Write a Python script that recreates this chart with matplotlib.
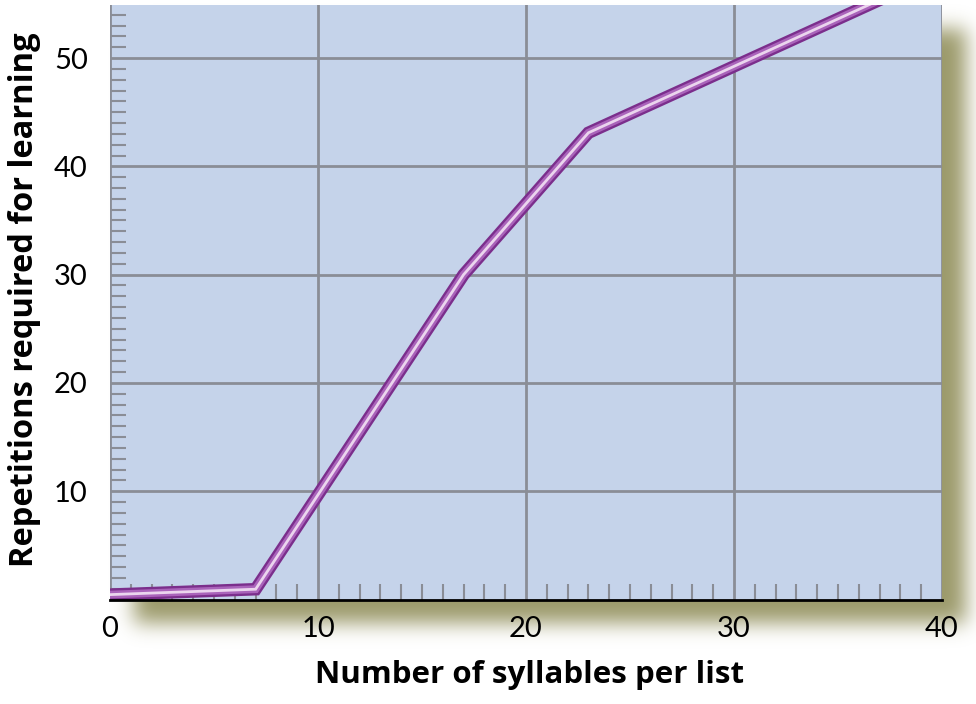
import numpy as np
import matplotlib
matplotlib.use("Agg")
import matplotlib.pyplot as plt
from matplotlib.ticker import MultipleLocator

# Data
syllables = [0, 7, 17, 23, 40]
repetitions = [0.45, 0.95, 30.0, 43.1, 58.0]
x_ticks = [0, 10, 20, 30, 40]
y_ticks = [10, 20, 30, 40, 50]
x_label = "Number of syllables per list"
y_label = "Repetitions required for learning"

plt.rcParams['font.family'] = ['Lato', 'DejaVu Sans']

W, H = 976, 704
fig = plt.figure(figsize=(W / 100, H / 100), dpi=100)
fig.patch.set_facecolor('white')

# axes placement (pixels)
L, R, T, B = 110, 942, 5, 599.5
ax_rect = [L / W, (H - B) / H, (R - L) / W, (B - T) / H]

# drop shadow
bg = fig.add_axes([0, 0, 1, 1], zorder=0)
bg.set_xlim(0, W); bg.set_ylim(H, 0); bg.axis('off')
mask = np.zeros((H, W))
off = 24
mask[int(T + off):int(B + off), int(L + off):int(R + off)] = 1.0
def blur1d(a, sigma, axis):
    r = int(3 * sigma)
    k = np.exp(-0.5 * (np.arange(-r, r + 1) / sigma) ** 2)
    k /= k.sum()
    return np.apply_along_axis(lambda v: np.convolve(v, k, mode='same'), axis, a)
mask = blur1d(blur1d(mask, 10, 0), 10, 1)
rgba = np.zeros((H, W, 4))
rgba[..., 0] = 150 / 255
rgba[..., 1] = 148 / 255
rgba[..., 2] = 98 / 255
rgba[..., 3] = np.clip(mask * 0.95, 0, 1)
bg.imshow(rgba, extent=(0, W, H, 0), interpolation='bilinear')

ax = fig.add_axes(ax_rect, zorder=1)
ax.set_facecolor('#C5D3EA')
ax.set_xlim(0, 40)
ax.set_ylim(0, 54.9)

ax.set_xticks(x_ticks)
ax.set_yticks(y_ticks)
ax.xaxis.set_minor_locator(MultipleLocator(1))
ax.yaxis.set_minor_locator(MultipleLocator(1))
ax.grid(True, which='major', color='#8A8D96', linewidth=2.0)
ax.set_axisbelow(True)

ax.tick_params(which='major', length=0, labelsize=21, colors='black')
ax.tick_params(axis='x', which='major', pad=12)
ax.tick_params(axis='y', which='major', pad=16)
ax.tick_params(which='minor', direction='in', length=11.5, width=1.5, color='#8A8D96')

for s in ['top', 'right', 'left']:
    ax.spines[s].set_visible(False)
ax.spines['bottom'].set_color('black')
ax.spines['bottom'].set_linewidth(2)
ax.spines['bottom'].set_zorder(5)

ax.plot(syllables, repetitions, color='#7B2E8C', linewidth=9, solid_joinstyle='miter', zorder=3)
ax.plot(syllables, repetitions, color='#A963BA', linewidth=5.6, solid_joinstyle='miter', zorder=4)
ax.plot(syllables, repetitions, color='#EBD5EE', linewidth=2.0, solid_joinstyle='miter', zorder=4)

lab_font = ['Open Sans', 'DejaVu Sans']
ax.set_xlabel(x_label, fontsize=22.5, fontweight='bold', family=lab_font)
ax.set_ylabel(y_label, fontsize=23.5, fontweight='bold', family=lab_font)
ax.xaxis.set_label_coords((530 - L) / (R - L), -(675 - B) / (B - T))
ax.yaxis.set_label_coords(-(L - 25) / (R - L), (B - 300) / (B - T))
ax.xaxis.label.set_va('center')
ax.yaxis.label.set_va('center')

fig.savefig('out.png', dpi=100)
